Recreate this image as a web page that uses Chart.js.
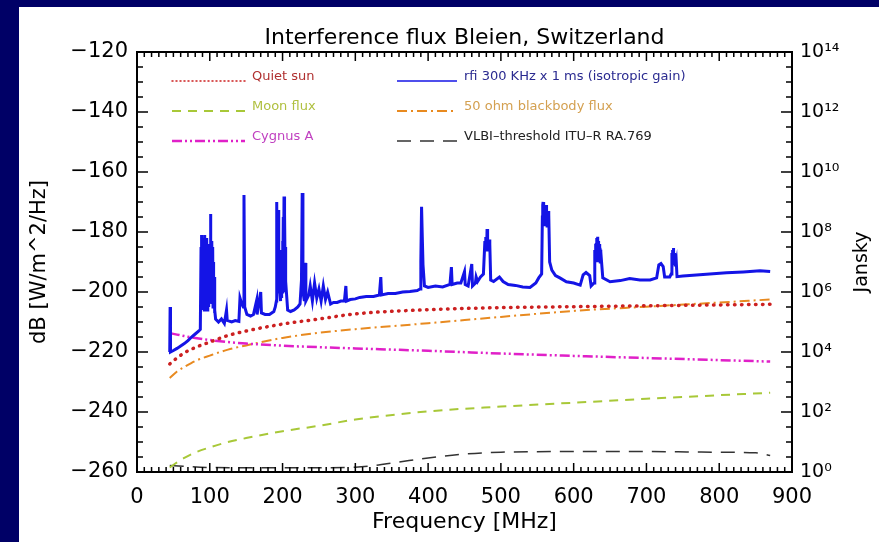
<!DOCTYPE html>
<html>
<head>
<meta charset="utf-8">
<title>Interference flux Bleien</title>
<script src="https://cdn.jsdelivr.net/npm/chart.js@4.4.1/dist/chart.umd.min.js"></script>
<style>
    html, body { margin: 0; padding: 0; width: 879px; height: 542px; overflow: hidden; background: #000066; }
    #box { position: absolute; left: 19px; top: 7px; width: 860px; height: 535px; background: #fff; }
</style>
</head>
<body>
<div id="box"><canvas id="fluxChart"></canvas></div>
<script>
"use strict"

// Data, dB [W/m^2/Hz] vs frequency in MHz

const curveFreq = [45, 55, 65, 80, 100, 125, 150, 200, 250, 300, 400, 500, 600, 700, 800, 870];
const quietSun  = [-224, -222, -220.3, -218.5, -216.7, -214.5, -213, -210.7, -209, -207.3, -205.9, -205.2, -204.9, -204.6, -204.3, -204.1];
const moonFlux  = [-258.5, -256.8, -255.3, -253.5, -251.8, -250, -248.7, -246.4, -244.6, -242.5, -239.8, -238.2, -236.9, -235.6, -234.4, -233.6];
const cygnusA   = [-213.7, -214.2, -214.7, -215.3, -216, -216.7, -217.2, -217.9, -218.4, -218.8, -219.6, -220.5, -221.3, -222, -222.7, -223.2];
const blackbody = [-228.7, -226.5, -225, -223, -221.2, -219.2, -217.8, -215.3, -213.6, -212.4, -210.4, -208.3, -206.3, -204.9, -203.5, -202.5];

const vlbiFreq      = [45, 100, 200, 300, 350, 400, 450, 500, 600, 700, 800, 850, 870];
const vlbiThreshold = [-257.8, -258.5, -258.6, -258.4, -257, -255.3, -254, -253.4, -253.2, -253.2, -253.4, -253.6, -254.5];

// measured rfi spectrum, [MHz, dB]
const rfiSpectrum = [
    [45, -220], [45.5, -205], [46, -220], [50, -219.5], [55, -218.8], [60, -218], [65, -217.2], [70, -216.2],
    [75, -215], [80, -214], [85, -213], [87, -212.5],
    [88, -185], [88.5, -205], [89, -181], [89.5, -203], [90, -183], [90.5, -206], [91, -182], [91.5, -200],
    [92, -186], [92.5, -206], [93, -181], [93.5, -202], [94, -189], [94.5, -205], [95, -183], [95.5, -201],
    [96, -182], [96.5, -206], [97, -188], [97.5, -203], [98, -184], [98.5, -205], [99, -190], [99.5, -200],
    [100, -186], [100.5, -203], [101, -174], [101.5, -199], [102, -187], [102.5, -204], [103, -183], [103.5, -201],
    [104, -185], [104.5, -205], [105, -190], [105.5, -203], [106, -195], [106.5, -207], [107, -206],
    [108, -209], [112, -210], [116, -209], [120, -210.5], [123, -206], [124, -209.5], [130, -210], [135, -209.5],
    [140, -209.8], [141.5, -202], [144, -204], [146, -205], [147, -167.7], [148, -205], [151, -207.5], [156, -208],
    [160, -207.5], [164.5, -202.7], [165, -207.5], [170, -200], [171, -207], [176, -207.5], [182, -207.5],
    [188, -206.5], [190, -205], [191.5, -203],
    [192, -170], [192.5, -195], [193, -178], [193.5, -199], [194, -172.7], [194.5, -196], [195, -185], [195.5, -200],
    [196, -188], [196.5, -201], [197, -192], [197.5, -203], [198, -190], [198.5, -202], [199, -186], [199.5, -200],
    [200, -183], [200.5, -197], [201, -175], [201.5, -190], [202, -168.2], [202.5, -178], [203, -174], [203.5, -192],
    [204, -185], [204.5, -200], [205, -199],
    [207, -206], [211, -206.5], [216, -206], [221, -205], [224, -204], [226, -196], [227, -167], [228, -200],
    [230, -203], [231, -190.3], [232, -203], [236, -201], [238, -198], [241, -203], [244, -197], [247, -202],
    [250, -199], [253, -203], [256, -198], [259, -202.5], [262, -200], [266, -204], [270, -203.5], [275, -203.5],
    [280, -203], [285, -203], [287, -198], [288, -203], [293, -202.5], [300, -202.3], [306, -201.8], [315, -201.5],
    [325, -201.5], [333, -201], [335, -195], [336, -201], [345, -200.5], [355, -200.5], [365, -200], [375, -199.8],
    [385, -199.5], [389, -199], [390, -190], [391, -171.6], [392, -181.6], [393, -191], [395, -198], [400, -198.5],
    [410, -198], [420, -198.3], [430, -197.5], [432, -191.7], [433, -197.5], [440, -197], [445, -197], [450, -193.2],
    [451, -197.5], [455, -198], [460, -190.7], [461, -198], [465, -197], [466, -195], [468, -196.5], [472, -195],
    [476, -194],
    [478, -183], [478.5, -186], [479, -181.7], [479.5, -186], [480, -182], [480.5, -185.5], [481, -179], [481.5, -185],
    [482, -182], [482.5, -186], [483, -183], [483.5, -185], [484, -182.5], [484.5, -186], [485, -184],
    [486, -196], [490, -196.5], [498, -195], [503, -196.5], [510, -197.5], [520, -197.8], [530, -198.3], [540, -198.5],
    [548, -197], [552, -195.3], [556, -194],
    [557, -175], [557.5, -171], [558, -170], [558.5, -176], [559, -172], [559.5, -177], [560, -173], [560.5, -178],
    [561, -172], [561.5, -176], [562, -171], [562.5, -177], [563, -173], [563.5, -178], [564, -174], [564.5, -177],
    [565, -173], [565.5, -178], [566, -174],
    [567, -190], [570, -192.7], [575, -194.5], [581, -195.3], [590, -196.6], [600, -197], [609, -197.7], [613, -194.3],
    [617, -193.5], [622, -194.5], [624, -198], [628, -197],
    [629, -186], [629.5, -189], [630, -184], [630.5, -190], [631, -183.7], [631.5, -189], [632, -182], [632.5, -188],
    [633, -181.6], [633.5, -189], [634, -183], [634.5, -190], [635, -184], [635.5, -189], [636, -185], [636.5, -190],
    [637, -186], [637.5, -190], [638, -189],
    [640, -195.3], [650, -196.6], [664, -196.2], [677, -195.5], [691, -196], [705, -196], [714, -195.3], [717, -191],
    [720, -190.5], [723, -191.5], [725, -195], [732, -195], [734, -194],
    [735, -187], [735.5, -190], [736, -186], [736.5, -190.5], [737, -185.3], [737.5, -190], [738, -187], [738.5, -191],
    [739, -188], [739.5, -191], [740, -189], [740.5, -191], [741, -190],
    [742, -194.9], [750, -194.7], [764, -194.4], [787, -194], [810, -193.6], [833, -193.3], [856, -192.9], [870, -193.2]
];

// right axis: Jansky, 10^0 .. 10^14
const janskyExponents = [0, 2, 4, 6, 8, 10, 12, 14];

const pairs = (xs, ys) => xs.map((x, i) => ({ x: x, y: ys[i] }));

const sup = { '0': '\u2070', '1': '\u00B9', '2': '\u00B2', '4': '\u2074', '6': '\u2076', '8': '\u2078' };
const toSup = n => String(n).split('').map(c => sup[c]).join('');

const FONT = "'DejaVu Sans', sans-serif";


// frame, inward ticks, legend and titles

const decorations = {
    id: 'decorations',
    afterDatasetsDraw(chart) {
        const { ctx, chartArea: a, scales } = chart;
        ctx.save();
        ctx.strokeStyle = '#000';
        ctx.lineWidth = 1.5;
        ctx.beginPath();
        for (let v = -260; v <= -120; v += 5) {
            const y = scales.y.getPixelForValue(v);
            const len = v % 20 === 0 ? 11 : 6;
            ctx.moveTo(a.left, y); ctx.lineTo(a.left + len, y);
        }
        for (let i = 0; i <= 28; i++) {
            const y = scales.yJ.getPixelForValue(Math.pow(10, i / 2));
            const len = i % 4 === 0 ? 11 : 6;
            ctx.moveTo(a.right, y); ctx.lineTo(a.right - len, y);
        }
        for (let f = 0; f <= 900; f += 10) {
            const x = scales.x.getPixelForValue(f);
            const len = f % 100 === 0 ? 9 : 5;
            ctx.moveTo(x, a.bottom); ctx.lineTo(x, a.bottom - len);
            ctx.moveTo(x, a.top); ctx.lineTo(x, a.top + len);
        }
        ctx.stroke();
        ctx.lineWidth = 2;
        ctx.strokeRect(a.left, a.top, a.right - a.left, a.bottom - a.top);

        // legend, two columns inside the plot
        ctx.font = '13px ' + FONT;
        ctx.textBaseline = 'middle';
        chart.data.datasets.forEach(ds => {
            const [col, row] = ds.legendSlot;
            const x0 = a.left + (col === 0 ? 35 : 260);
            const len = col === 0 ? 73 : 60;
            const y = a.top + 25 + row * 30;
            ctx.save();
            ctx.strokeStyle = ds.borderColor;
            ctx.lineWidth = ds.legendWidth || ds.borderWidth;
            ctx.lineCap = ds.borderCapStyle || 'butt';
            ctx.setLineDash(ds.legendDash || ds.borderDash || []);
            ctx.beginPath();
            ctx.moveTo(x0, y + 4); ctx.lineTo(x0 + len, y + 4);
            ctx.stroke();
            ctx.restore();
            ctx.fillStyle = ds.legendText;
            ctx.textAlign = 'left';
            ctx.fillText(ds.label, x0 + len + 7, y);
        });

        // title and right axis title
        ctx.fillStyle = '#000';
        ctx.textAlign = 'center';
        ctx.textBaseline = 'alphabetic';
        ctx.font = '22px ' + FONT;
        ctx.fillText('Interference flux Bleien, Switzerland', (a.left + a.right) / 2, 37);
        ctx.save();
        ctx.translate(843, (a.top + a.bottom) / 2);
        ctx.rotate(-Math.PI / 2);
        ctx.textBaseline = 'middle';
        ctx.font = '19px ' + FONT;
        ctx.fillText('Jansky', 0, 0);
        ctx.restore();
        ctx.restore();
    }
};

const fluxChart = new Chart(document.getElementById('fluxChart'), {
    type: 'line',
    data: {
        datasets: [
            {
                label: 'rfi 300 KHz x 1 ms (isotropic gain)',
                data: rfiSpectrum.map(p => ({ x: p[0], y: p[1] })),
                borderColor: '#1414e6',
                borderWidth: 3,
                cubicInterpolationMode: 'default',
                legendWidth: 1.5,
                legendText: '#2a2a90',
                legendSlot: [1, 0]
            },
            {
                label: 'Quiet sun',
                data: pairs(curveFreq, quietSun),
                borderColor: '#cc2020',
                borderWidth: 3.5,
                borderDash: [0.5, 6.5],
                borderCapStyle: 'round',
                legendWidth: 1.5,
                legendDash: [1, 3],
                legendText: '#b03030',
                legendSlot: [0, 0]
            },
            {
                label: 'Moon flux',
                data: pairs(curveFreq, moonFlux),
                borderColor: '#a8c838',
                borderWidth: 2,
                borderDash: [9, 7],
                legendText: '#b0c040',
                legendSlot: [0, 1]
            },
            {
                label: 'Cygnus A',
                data: pairs(curveFreq, cygnusA),
                borderColor: '#e020c8',
                borderWidth: 2.5,
                borderDash: [10, 3, 2, 3, 2, 3],
                legendText: '#c040c0',
                legendSlot: [0, 2]
            },
            {
                label: '50 ohm blackbody flux',
                data: pairs(curveFreq, blackbody),
                borderColor: '#e88a20',
                borderWidth: 2,
                borderDash: [10, 4, 2, 4],
                legendText: '#d4a050',
                legendSlot: [1, 1]
            },
            {
                label: 'VLBI\u2013threshold ITU\u2013R RA.769',
                data: pairs(vlbiFreq, vlbiThreshold),
                borderColor: '#333',
                borderWidth: 1.5,
                borderDash: [14, 9],
                legendText: '#222',
                legendSlot: [1, 2]
            }
        ]
    },
    options: {
        responsive: true,
        maintainAspectRatio: false,
        animation: false,
        layout: { padding: { top: 45, left: 0, right: 0, bottom: 0 } },
        elements: {
            point: { radius: 0 },
            line: { tension: 0, cubicInterpolationMode: 'monotone', fill: false }
        },
        plugins: {
            legend: { display: false },
            tooltip: { enabled: false }
        },
        scales: {
            x: {
                type: 'linear',
                min: 0,
                max: 900,
                grid: { display: false, drawTicks: false },
                border: { display: false },
                ticks: { stepSize: 100, padding: 13, color: '#000', font: { family: FONT, size: 21 } },
                title: { display: true, text: 'Frequency [MHz]', color: '#000', font: { family: FONT, size: 22 }, padding: { bottom: 7 } },
                afterFit: scale => { scale.height = 70; }
            },
            y: {
                type: 'linear',
                position: 'left',
                min: -260,
                max: -120,
                grid: { display: false, drawTicks: false },
                border: { display: false },
                ticks: {
                    stepSize: 20, padding: 9, color: '#000', font: { family: FONT, size: 21 },
                    callback: v => (v < 0 ? '\u2212' : '') + Math.abs(v)
                },
                title: { display: true, text: 'dB [W/m^2/Hz]', color: '#000', font: { family: FONT, size: 21 }, padding: { top: 8 } },
                afterFit: scale => { scale.width = 118; }
            },
            yJ: {
                type: 'logarithmic',
                position: 'right',
                min: 1,
                max: 1e14,
                grid: { display: false, drawTicks: false },
                border: { display: false },
                afterBuildTicks: scale => {
                    scale.ticks = janskyExponents.map(e => ({ value: Math.pow(10, e) }));
                },
                ticks: {
                    autoSkip: false, padding: 8, color: '#000', font: { family: FONT, size: 19 },
                    callback: v => '10' + toSup(Math.round(Math.log10(v)))
                },
                afterFit: scale => { scale.width = 87; }
            }
        }
    },
    plugins: [decorations]
});
</script>
</body>
</html>
